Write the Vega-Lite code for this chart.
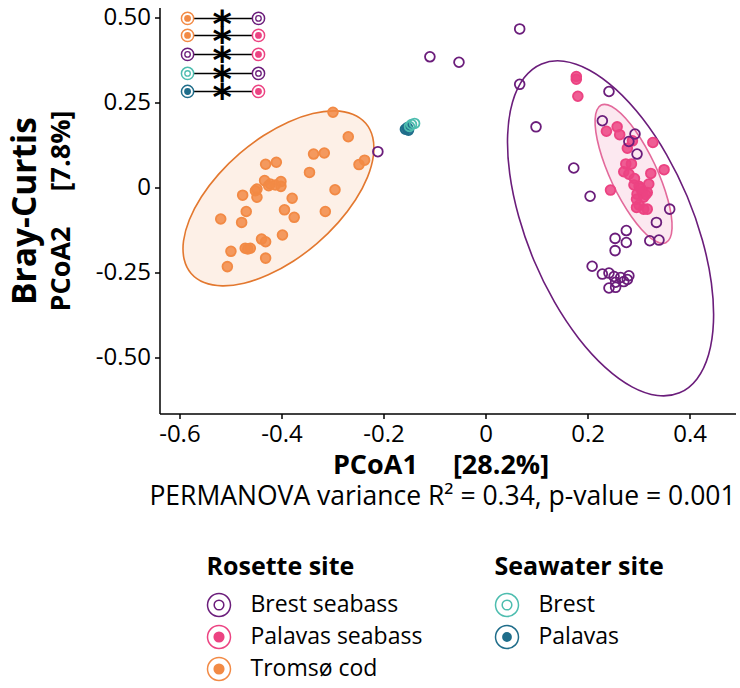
{
  "$schema": "https://vega.github.io/schema/vega-lite/v6.json",
  "background": "white",
  "padding": {"left": 8.5, "right": 0, "top": 4.5, "bottom": 0},
  "datasets": {
    "pts": [
      {"site":"Rosette","group":"Tromsø cod","x":-0.299,"y":0.221},
      {"site":"Rosette","group":"Tromsø cod","x":-0.269,"y":0.149},
      {"site":"Rosette","group":"Tromsø cod","x":-0.337,"y":0.098},
      {"site":"Rosette","group":"Tromsø cod","x":-0.316,"y":0.101},
      {"site":"Rosette","group":"Tromsø cod","x":-0.431,"y":0.068},
      {"site":"Rosette","group":"Tromsø cod","x":-0.410,"y":0.074},
      {"site":"Rosette","group":"Tromsø cod","x":-0.345,"y":0.044},
      {"site":"Rosette","group":"Tromsø cod","x":-0.248,"y":0.067},
      {"site":"Rosette","group":"Tromsø cod","x":-0.237,"y":0.080},
      {"site":"Rosette","group":"Tromsø cod","x":-0.433,"y":0.020},
      {"site":"Rosette","group":"Tromsø cod","x":-0.422,"y":0.010},
      {"site":"Rosette","group":"Tromsø cod","x":-0.401,"y":0.017},
      {"site":"Rosette","group":"Tromsø cod","x":-0.401,"y":0.003},
      {"site":"Rosette","group":"Tromsø cod","x":-0.412,"y":0.007},
      {"site":"Rosette","group":"Tromsø cod","x":-0.448,"y":-0.005},
      {"site":"Rosette","group":"Tromsø cod","x":-0.451,"y":-0.010},
      {"site":"Rosette","group":"Tromsø cod","x":-0.295,"y":-0.007},
      {"site":"Rosette","group":"Tromsø cod","x":-0.476,"y":-0.023},
      {"site":"Rosette","group":"Tromsø cod","x":-0.448,"y":-0.029},
      {"site":"Rosette","group":"Tromsø cod","x":-0.379,"y":-0.032},
      {"site":"Rosette","group":"Tromsø cod","x":-0.394,"y":-0.066},
      {"site":"Rosette","group":"Tromsø cod","x":-0.469,"y":-0.071},
      {"site":"Rosette","group":"Tromsø cod","x":-0.314,"y":-0.071},
      {"site":"Rosette","group":"Tromsø cod","x":-0.375,"y":-0.088},
      {"site":"Rosette","group":"Tromsø cod","x":-0.519,"y":-0.093},
      {"site":"Rosette","group":"Tromsø cod","x":-0.478,"y":-0.103},
      {"site":"Rosette","group":"Tromsø cod","x":-0.398,"y":-0.140},
      {"site":"Rosette","group":"Tromsø cod","x":-0.439,"y":-0.152},
      {"site":"Rosette","group":"Tromsø cod","x":-0.431,"y":-0.160},
      {"site":"Rosette","group":"Tromsø cod","x":-0.499,"y":-0.188},
      {"site":"Rosette","group":"Tromsø cod","x":-0.471,"y":-0.179},
      {"site":"Rosette","group":"Tromsø cod","x":-0.461,"y":-0.179},
      {"site":"Rosette","group":"Tromsø cod","x":-0.466,"y":-0.181},
      {"site":"Rosette","group":"Tromsø cod","x":-0.431,"y":-0.208},
      {"site":"Rosette","group":"Tromsø cod","x":-0.506,"y":-0.233},
      {"site":"Rosette","group":"Tromsø cod","x":-0.425,"y":0.005},
      {"site":"Rosette","group":"Palavas seabass","x":0.178,"y":0.326},
      {"site":"Rosette","group":"Palavas seabass","x":0.178,"y":0.318},
      {"site":"Rosette","group":"Palavas seabass","x":0.181,"y":0.268},
      {"site":"Rosette","group":"Palavas seabass","x":0.237,"y":0.165},
      {"site":"Rosette","group":"Palavas seabass","x":0.258,"y":0.178},
      {"site":"Rosette","group":"Palavas seabass","x":0.263,"y":0.155},
      {"site":"Rosette","group":"Palavas seabass","x":0.278,"y":0.115},
      {"site":"Rosette","group":"Palavas seabass","x":0.288,"y":0.137},
      {"site":"Rosette","group":"Palavas seabass","x":0.328,"y":0.132},
      {"site":"Rosette","group":"Palavas seabass","x":0.275,"y":0.069},
      {"site":"Rosette","group":"Palavas seabass","x":0.286,"y":0.069},
      {"site":"Rosette","group":"Palavas seabass","x":0.271,"y":0.046},
      {"site":"Rosette","group":"Palavas seabass","x":0.281,"y":0.039},
      {"site":"Rosette","group":"Palavas seabass","x":0.324,"y":0.041},
      {"site":"Rosette","group":"Palavas seabass","x":0.350,"y":0.052},
      {"site":"Rosette","group":"Palavas seabass","x":0.245,"y":-0.008},
      {"site":"Rosette","group":"Palavas seabass","x":0.291,"y":0.007},
      {"site":"Rosette","group":"Palavas seabass","x":0.320,"y":0.010},
      {"site":"Rosette","group":"Palavas seabass","x":0.297,"y":-0.020},
      {"site":"Rosette","group":"Palavas seabass","x":0.317,"y":-0.015},
      {"site":"Rosette","group":"Palavas seabass","x":0.301,"y":0.003},
      {"site":"Rosette","group":"Palavas seabass","x":0.307,"y":-0.013},
      {"site":"Rosette","group":"Palavas seabass","x":0.310,"y":-0.029},
      {"site":"Rosette","group":"Palavas seabass","x":0.301,"y":-0.052},
      {"site":"Rosette","group":"Palavas seabass","x":0.310,"y":-0.064},
      {"site":"Rosette","group":"Palavas seabass","x":0.317,"y":-0.064},
      {"site":"Rosette","group":"Palavas seabass","x":0.296,"y":-0.059},
      {"site":"Rosette","group":"Palavas seabass","x":0.314,"y":-0.021},
      {"site":"Rosette","group":"Palavas seabass","x":0.296,"y":-0.035},
      {"site":"Rosette","group":"Palavas seabass","x":0.304,"y":-0.003},
      {"site":"Rosette","group":"Palavas seabass","x":0.292,"y":0.026},
      {"site":"Rosette","group":"Brest seabass","x":0.067,"y":0.466},
      {"site":"Rosette","group":"Brest seabass","x":-0.109,"y":0.384},
      {"site":"Rosette","group":"Brest seabass","x":-0.052,"y":0.368},
      {"site":"Rosette","group":"Brest seabass","x":0.067,"y":0.303},
      {"site":"Rosette","group":"Brest seabass","x":0.099,"y":0.178},
      {"site":"Rosette","group":"Brest seabass","x":-0.211,"y":0.105},
      {"site":"Rosette","group":"Brest seabass","x":0.242,"y":0.282},
      {"site":"Rosette","group":"Brest seabass","x":0.229,"y":0.196},
      {"site":"Rosette","group":"Brest seabass","x":0.173,"y":0.057},
      {"site":"Rosette","group":"Brest seabass","x":0.205,"y":-0.026},
      {"site":"Rosette","group":"Brest seabass","x":0.293,"y":0.157},
      {"site":"Rosette","group":"Brest seabass","x":0.281,"y":0.135},
      {"site":"Rosette","group":"Brest seabass","x":0.297,"y":0.098},
      {"site":"Rosette","group":"Brest seabass","x":0.361,"y":-0.064},
      {"site":"Rosette","group":"Brest seabass","x":0.335,"y":-0.103},
      {"site":"Rosette","group":"Brest seabass","x":0.276,"y":-0.127},
      {"site":"Rosette","group":"Brest seabass","x":0.254,"y":-0.150},
      {"site":"Rosette","group":"Brest seabass","x":0.276,"y":-0.162},
      {"site":"Rosette","group":"Brest seabass","x":0.254,"y":-0.186},
      {"site":"Rosette","group":"Brest seabass","x":0.322,"y":-0.157},
      {"site":"Rosette","group":"Brest seabass","x":0.340,"y":-0.155},
      {"site":"Rosette","group":"Brest seabass","x":0.209,"y":-0.232},
      {"site":"Rosette","group":"Brest seabass","x":0.229,"y":-0.255},
      {"site":"Rosette","group":"Brest seabass","x":0.242,"y":-0.252},
      {"site":"Rosette","group":"Brest seabass","x":0.252,"y":-0.262},
      {"site":"Rosette","group":"Brest seabass","x":0.265,"y":-0.265},
      {"site":"Rosette","group":"Brest seabass","x":0.278,"y":-0.271},
      {"site":"Rosette","group":"Brest seabass","x":0.255,"y":-0.279},
      {"site":"Rosette","group":"Brest seabass","x":0.242,"y":-0.296},
      {"site":"Rosette","group":"Brest seabass","x":0.255,"y":-0.294},
      {"site":"Rosette","group":"Brest seabass","x":0.271,"y":-0.277},
      {"site":"Rosette","group":"Brest seabass","x":0.281,"y":-0.260},
      {"site":"Seawater","group":"Palavas","x":-0.157,"y":0.171},
      {"site":"Seawater","group":"Palavas","x":-0.151,"y":0.168},
      {"site":"Seawater","group":"Palavas","x":-0.153,"y":0.176},
      {"site":"Seawater","group":"Brest","x":-0.145,"y":0.185},
      {"site":"Seawater","group":"Brest","x":-0.139,"y":0.188},
      {"site":"Seawater","group":"Brest","x":-0.149,"y":0.179}
    ],
    "ell": [
      {"group":"Tromsø cod","i":0,"x":-0.2348,"y":0.1884},
      {"group":"Tromsø cod","i":1,"x":-0.2210,"y":0.1466},
      {"group":"Tromsø cod","i":2,"x":-0.2198,"y":0.0927},
      {"group":"Tromsø cod","i":3,"x":-0.2313,"y":0.0303},
      {"group":"Tromsø cod","i":4,"x":-0.2547,"y":-0.0365},
      {"group":"Tromsø cod","i":5,"x":-0.2884,"y":-0.1029},
      {"group":"Tromsø cod","i":6,"x":-0.3301,"y":-0.1646},
      {"group":"Tromsø cod","i":7,"x":-0.3769,"y":-0.2172},
      {"group":"Tromsø cod","i":8,"x":-0.4258,"y":-0.2572},
      {"group":"Tromsø cod","i":9,"x":-0.4733,"y":-0.2819},
      {"group":"Tromsø cod","i":10,"x":-0.5161,"y":-0.2896},
      {"group":"Tromsø cod","i":11,"x":-0.5515,"y":-0.2798},
      {"group":"Tromsø cod","i":12,"x":-0.5770,"y":-0.2531},
      {"group":"Tromsø cod","i":13,"x":-0.5907,"y":-0.2114},
      {"group":"Tromsø cod","i":14,"x":-0.5919,"y":-0.1574},
      {"group":"Tromsø cod","i":15,"x":-0.5805,"y":-0.0950},
      {"group":"Tromsø cod","i":16,"x":-0.5571,"y":-0.0282},
      {"group":"Tromsø cod","i":17,"x":-0.5234,"y":0.0382},
      {"group":"Tromsø cod","i":18,"x":-0.4817,"y":0.0999},
      {"group":"Tromsø cod","i":19,"x":-0.4348,"y":0.1525},
      {"group":"Tromsø cod","i":20,"x":-0.3860,"y":0.1925},
      {"group":"Tromsø cod","i":21,"x":-0.3385,"y":0.2172},
      {"group":"Tromsø cod","i":22,"x":-0.2956,"y":0.2249},
      {"group":"Tromsø cod","i":23,"x":-0.2603,"y":0.2151},
      {"group":"Brest seabass","i":0,"x":0.3803,"y":-0.6042},
      {"group":"Brest seabass","i":1,"x":0.3368,"y":-0.6121},
      {"group":"Brest seabass","i":2,"x":0.2871,"y":-0.5866},
      {"group":"Brest seabass","i":3,"x":0.2346,"y":-0.5293},
      {"group":"Brest seabass","i":4,"x":0.1827,"y":-0.4442},
      {"group":"Brest seabass","i":5,"x":0.1351,"y":-0.3369},
      {"group":"Brest seabass","i":6,"x":0.0950,"y":-0.2150},
      {"group":"Brest seabass","i":7,"x":0.0652,"y":-0.0866},
      {"group":"Brest seabass","i":8,"x":0.0475,"y":0.0395},
      {"group":"Brest seabass","i":9,"x":0.0434,"y":0.1546},
      {"group":"Brest seabass","i":10,"x":0.0530,"y":0.2510},
      {"group":"Brest seabass","i":11,"x":0.0757,"y":0.3221},
      {"group":"Brest seabass","i":12,"x":0.1099,"y":0.3630},
      {"group":"Brest seabass","i":13,"x":0.1534,"y":0.3710},
      {"group":"Brest seabass","i":14,"x":0.2031,"y":0.3454},
      {"group":"Brest seabass","i":15,"x":0.2556,"y":0.2881},
      {"group":"Brest seabass","i":16,"x":0.3075,"y":0.2030},
      {"group":"Brest seabass","i":17,"x":0.3551,"y":0.0958},
      {"group":"Brest seabass","i":18,"x":0.3952,"y":-0.0262},
      {"group":"Brest seabass","i":19,"x":0.4250,"y":-0.1545},
      {"group":"Brest seabass","i":20,"x":0.4427,"y":-0.2806},
      {"group":"Brest seabass","i":21,"x":0.4468,"y":-0.3958},
      {"group":"Brest seabass","i":22,"x":0.4372,"y":-0.4922},
      {"group":"Brest seabass","i":23,"x":0.4145,"y":-0.5633},
      {"group":"Palavas seabass","i":0,"x":0.3535,"y":-0.1626},
      {"group":"Palavas seabass","i":1,"x":0.3407,"y":-0.1632},
      {"group":"Palavas seabass","i":2,"x":0.3244,"y":-0.1500},
      {"group":"Palavas seabass","i":3,"x":0.3059,"y":-0.1239},
      {"group":"Palavas seabass","i":4,"x":0.2862,"y":-0.0866},
      {"group":"Palavas seabass","i":5,"x":0.2668,"y":-0.0407},
      {"group":"Palavas seabass","i":6,"x":0.2490,"y":0.0107},
      {"group":"Palavas seabass","i":7,"x":0.2340,"y":0.0641},
      {"group":"Palavas seabass","i":8,"x":0.2229,"y":0.1158},
      {"group":"Palavas seabass","i":9,"x":0.2163,"y":0.1623},
      {"group":"Palavas seabass","i":10,"x":0.2148,"y":0.2004},
      {"group":"Palavas seabass","i":11,"x":0.2184,"y":0.2276},
      {"group":"Palavas seabass","i":12,"x":0.2269,"y":0.2421},
      {"group":"Palavas seabass","i":13,"x":0.2397,"y":0.2426},
      {"group":"Palavas seabass","i":14,"x":0.2559,"y":0.2294},
      {"group":"Palavas seabass","i":15,"x":0.2745,"y":0.2033},
      {"group":"Palavas seabass","i":16,"x":0.2942,"y":0.1660},
      {"group":"Palavas seabass","i":17,"x":0.3136,"y":0.1201},
      {"group":"Palavas seabass","i":18,"x":0.3314,"y":0.0687},
      {"group":"Palavas seabass","i":19,"x":0.3464,"y":0.0153},
      {"group":"Palavas seabass","i":20,"x":0.3575,"y":-0.0364},
      {"group":"Palavas seabass","i":21,"x":0.3641,"y":-0.0829},
      {"group":"Palavas seabass","i":22,"x":0.3656,"y":-0.1210},
      {"group":"Palavas seabass","i":23,"x":0.3620,"y":-0.1482}
    ],
    "sigm": [
      {"row":1,"x":-0.584,"y":0.497,"group":"Tromsø cod"},
      {"row":1,"x":-0.445,"y":0.497,"group":"Brest seabass"},
      {"row":2,"x":-0.584,"y":0.447,"group":"Tromsø cod"},
      {"row":2,"x":-0.445,"y":0.447,"group":"Palavas seabass"},
      {"row":3,"x":-0.584,"y":0.391,"group":"Brest seabass"},
      {"row":3,"x":-0.445,"y":0.391,"group":"Palavas seabass"},
      {"row":4,"x":-0.584,"y":0.335,"group":"Brest"},
      {"row":4,"x":-0.445,"y":0.335,"group":"Brest seabass"},
      {"row":5,"x":-0.584,"y":0.282,"group":"Palavas"},
      {"row":5,"x":-0.445,"y":0.282,"group":"Palavas seabass"}
    ],
    "sigs": [
      {"row":1,"x":-0.516,"y":0.497,"label":"*"},
      {"row":2,"x":-0.516,"y":0.447,"label":"*"},
      {"row":3,"x":-0.516,"y":0.391,"label":"*"},
      {"row":4,"x":-0.516,"y":0.335,"label":"*"},
      {"row":5,"x":-0.516,"y":0.282,"label":"*"}
    ]
  },
  "vconcat": [
    {
      "width": 576,
      "height": 406,
      "title": {
        "text": "PERMANOVA variance R² = 0.34, p-value = 0.001",
        "orient": "bottom",
        "anchor": "middle",
        "frame": "group",
        "fontSize": 26.5,
        "fontWeight": "normal",
        "color": "black",
        "offset": 5,
        "dx": -5
      },
      "resolve": {"axis": {"y": "independent"}},
      "layer": [
        {
          "encoding": {
            "x": {
              "field": "x", "type": "quantitative",
              "scale": {"domain": [-0.639, 0.49], "nice": false, "zero": false},
              "axis": {
                "values": [-0.6, -0.4, -0.2, 0, 0.2, 0.4],
                "labelExpr": "datum.value === 0 ? '0' : (datum.value < 0 ? '-' : '') + format(abs(datum.value), '.1f')",
                "title": "PCoA1\u00a0\u00a0\u00a0\u00a0\u00a0[28.2%]",
                "titleFontSize": 27,
                "titlePadding": 6,
                "titleX": 281
              }
            },
            "y": {
              "field": "y", "type": "quantitative",
              "scale": {"domain": [-0.665, 0.529], "nice": false, "zero": false},
              "axis": {
                "values": [-0.5, -0.25, 0, 0.25, 0.5],
                "labelExpr": "datum.value === 0 ? '0' : (datum.value < 0 ? '-' : '') + format(abs(datum.value), '.2f')",
                "title": "PCoA2\u00a0\u00a0\u00a0\u00a0\u00a0[7.8%]",
                "titleFontSize": 27,
                "titlePadding": 20
              }
            }
          },
          "layer": [
            {
              "data": {"name": "ell"},
              "transform": [{"filter": "datum.group === 'Tromsø cod'"}],
              "mark": {"type": "line", "interpolate": "cardinal-closed", "stroke": "#e3782f", "strokeWidth": 1.6, "fill": "#fdf0e7"},
              "encoding": {"order": {"field": "i", "type": "quantitative"}}
            },
            {
              "data": {"name": "ell"},
              "transform": [{"filter": "datum.group === 'Brest seabass'"}],
              "mark": {"type": "line", "interpolate": "cardinal-closed", "stroke": "#6b1d7b", "strokeWidth": 1.6},
              "encoding": {"order": {"field": "i", "type": "quantitative"}}
            },
            {
              "data": {"name": "ell"},
              "transform": [{"filter": "datum.group === 'Palavas seabass'"}],
              "mark": {"type": "line", "interpolate": "cardinal-closed", "stroke": "#e3699b", "strokeWidth": 1.6, "fill": "#fce8f0"},
              "encoding": {"order": {"field": "i", "type": "quantitative"}}
            },
            {
              "data": {"name": "pts"},
              "transform": [{"filter": "datum.site === 'Rosette'"}],
              "mark": {"type": "point", "size": 95, "strokeWidth": 1.8, "fillOpacity": 0.85, "opacity": 1},
              "encoding": {
                "stroke": {
                  "field": "group", "type": "nominal",
                  "scale": {"domain": ["Brest seabass", "Palavas seabass", "Tromsø cod", "Brest", "Palavas"], "range": ["#6b1d7b", "#ec4382", "#f28a45", "#4dbdaf", "#1f6d8a"]},
                  "legend": {"title": "Rosette site", "values": ["Brest seabass", "Palavas seabass", "Tromsø cod"]}
                },
                "fill": {
                  "field": "group", "type": "nominal",
                  "scale": {"domain": ["Brest seabass", "Palavas seabass", "Tromsø cod", "Brest", "Palavas"], "range": ["transparent", "#ec4382", "#f28a45", "transparent", "#1f6d8a"]},
                  "legend": {"title": "Rosette site", "values": ["Brest seabass", "Palavas seabass", "Tromsø cod"]}
                }
              }
            },
            {
              "data": {"name": "pts"},
              "transform": [{"filter": "datum.site === 'Seawater'"}],
              "mark": {"type": "point", "size": 95, "strokeWidth": 1.8, "filled": false, "fillOpacity": 0.9},
              "encoding": {
                "color": {
                  "field": "group", "type": "nominal",
                  "scale": {"domain": ["Brest", "Palavas"], "range": ["#4dbdaf", "#1f6d8a"]},
                  "legend": {"title": "Seawater site\u00a0\u2800", "symbolFillColor": "transparent"}
                },
                "fill": {
                  "field": "group", "type": "nominal",
                  "scale": {"domain": ["Brest seabass", "Palavas seabass", "Tromsø cod", "Brest", "Palavas"], "range": ["transparent", "#ec4382", "#f28a45", "transparent", "#1f6d8a"]},
                  "legend": {"title": "Rosette site", "values": ["Brest seabass", "Palavas seabass", "Tromsø cod"]}
                }
              }
            },
            {
              "data": {"name": "pts"},
              "transform": [{"filter": "datum.site === 'Seawater'"}],
              "mark": {"type": "point", "opacity": 0},
              "encoding": {
                "color": {
                  "field": "group", "type": "nominal",
                  "scale": {"domain": ["Brest", "Palavas"], "range": ["#4dbdaf", "#1f6d8a"]},
                  "legend": {"title": "Seawater site\u00a0\u2800", "symbolFillColor": "transparent"}
                },
                "shape": {
                  "field": "group", "type": "nominal",
                  "scale": {
                    "domain": ["Brest", "Palavas"],
                    "range": [
                      "M1,0A1,1,0,1,1,-1,0A1,1,0,1,1,1,0ZM0.42,0A0.42,0.42,0,1,1,-0.42,0A0.42,0.42,0,1,1,0.42,0Z",
                      "M1,0A1,1,0,1,1,-1,0A1,1,0,1,1,1,0ZM0.36,0A0.36,0.36,0,1,1,-0.36,0A0.36,0.36,0,1,1,0.36,0ZM0.26,0A0.26,0.26,0,1,1,-0.26,0A0.26,0.26,0,1,1,0.26,0ZM0.16,0A0.16,0.16,0,1,1,-0.16,0A0.16,0.16,0,1,1,0.16,0ZM0.06,0A0.06,0.06,0,1,1,-0.06,0A0.06,0.06,0,1,1,0.06,0Z"
                    ]
                  },
                  "legend": {"title": "Seawater site\u00a0\u2800", "symbolFillColor": "transparent"}
                }
              }
            },
            {
              "data": {"name": "sigm"},
              "mark": {"type": "line", "color": "black", "strokeWidth": 1.5},
              "encoding": {"detail": {"field": "row", "type": "nominal"}}
            },
            {
              "data": {"name": "sigm"},
              "mark": {"type": "point", "size": 150, "strokeWidth": 1.5, "fill": "white", "fillOpacity": 1},
              "encoding": {
                "stroke": {
                  "field": "group", "type": "nominal",
                  "scale": {"domain": ["Brest seabass", "Palavas seabass", "Tromsø cod", "Brest", "Palavas"], "range": ["#6b1d7b", "#ec4382", "#f28a45", "#4dbdaf", "#1f6d8a"]}
                }
              }
            },
            {
              "data": {"name": "sigm"},
              "mark": {"type": "point", "size": 30, "strokeWidth": 1.3, "fillOpacity": 1},
              "encoding": {
                "stroke": {
                  "field": "group", "type": "nominal",
                  "scale": {"domain": ["Brest seabass", "Palavas seabass", "Tromsø cod", "Brest", "Palavas"], "range": ["#6b1d7b", "#ec4382", "#f28a45", "#4dbdaf", "#1f6d8a"]}
                },
                "fill": {
                  "field": "group", "type": "nominal",
                  "scale": {"domain": ["Brest seabass", "Palavas seabass", "Tromsø cod", "Brest", "Palavas"], "range": ["transparent", "#ec4382", "#f28a45", "transparent", "#1f6d8a"]}
                }
              }
            },
            {
              "data": {"name": "sigs"},
              "mark": {"type": "text", "font": "DejaVu Sans", "fontSize": 37, "fontWeight": "bold", "color": "black", "baseline": "alphabetic", "dy": 18.5},
              "encoding": {"text": {"field": "label", "type": "nominal"}}
            }
          ]
        },
        {
          "data": {"name": "sigs"},
          "mark": {"type": "point", "opacity": 0},
          "encoding": {
            "y": {
              "field": "y", "type": "quantitative",
              "scale": {"domain": [-0.665, 0.529], "nice": false, "zero": false},
              "axis": {
                "orient": "left",
                "title": "Bray-Curtis",
                "titleFontSize": 33.5,
                "labels": false,
                "ticks": false,
                "domain": false,
                "grid": false,
                "titlePadding": 117
              }
            }
          }
        }
      ]
    }
  ],
  "config": {
    "font": "Open Sans",
    "view": {"stroke": null},
    "axis": {
      "domainColor": "black",
      "domainWidth": 1.5,
      "tickColor": "black",
      "tickWidth": 1.5,
      "tickSize": 5,
      "labelFontSize": 24,
      "labelColor": "black",
      "labelPadding": 4,
      "labelFlush": false,
      "labelOverlap": false,
      "labelBound": false,
      "titleColor": "black",
      "titleFontWeight": "bold",
      "titleFontSize": 25,
      "grid": false
    },
    "legend": {
      "orient": "bottom",
      "direction": "vertical",
      "columns": 1,
      "titleFontSize": 25,
      "titleFontWeight": "bold",
      "titleColor": "black",
      "titlePadding": 13,
      "titleLimit": 400,
      "labelFontSize": 23,
      "labelColor": "black",
      "labelOffset": 19,
      "labelLimit": 400,
      "rowPadding": 3,
      "symbolType": "M1,0A1,1,0,1,1,-1,0A1,1,0,1,1,1,0A1,1,0,1,0,-1,0A1,1,0,1,0,1,0ZM0.42,0A0.42,0.42,0,1,1,-0.42,0A0.42,0.42,0,1,1,0.42,0Z",
      "symbolSize": 529,
      "symbolStrokeWidth": 1.5,
      "symbolOpacity": 1,
      "offset": 44,
      "layout": {"bottom": {"anchor": "middle", "margin": 72}}
    }
  }
}
